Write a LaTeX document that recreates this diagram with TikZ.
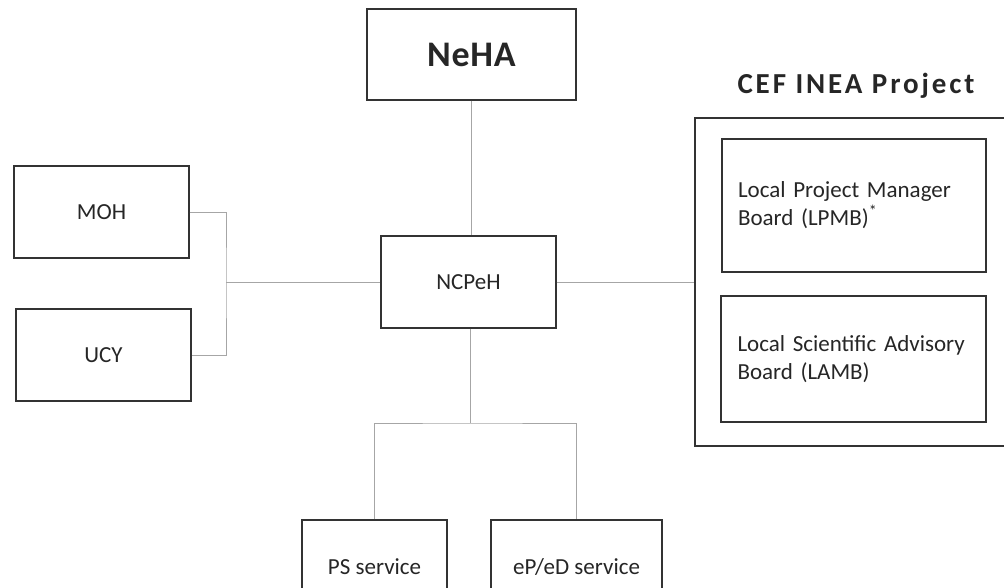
\documentclass[tikz,border=0pt]{standalone}
\usepackage{fontspec}
\setmainfont{Carlito}
\usepackage{tikz}

\tikzset{
	unit/.style={draw=black!80, line width=1.3pt, text=black!85, font=\fontsize{23}{28}\selectfont, minimum width=175pt, minimum height=92pt, inner sep=0pt},
	board/.style={unit, align=left, text width=232pt},
	link/.style={draw=black!35, line width=1pt}
}

\begin{document}
\begin{tikzpicture}[x=1pt, y=-1pt]
	\useasboundingbox (0,0) rectangle (1004,587);
	\clip (0,0) rectangle (1004,587);
	\node[unit, minimum width=209pt, minimum height=91pt, font=\fontsize{36}{40}\selectfont\bfseries\addfontfeature{LetterSpace=2}] (neha) at (471.5,54.5) {NeHA};
	\node[unit] (moh) at (101.5,212) {MOH};
	\node[unit] (ucy) at (103.5,355) {UCY};
	\node[unit] (ncpeh) at (468.5,282) {NCPeH};
	%% CEF INEA group
	\node[unit, minimum width=318pt, minimum height=328pt] (cef) at (854,282) {};
	\node[text=black!85, font=\fontsize{29}{32}\selectfont\bfseries\addfontfeature{LetterSpace=10}] (title) at (856,86) {CEF INEA Project};
	\node[board, minimum width=264pt, minimum height=133pt] (lpmb) at (854,205.5) {Local Project Manager\\Board (LPMB)\textsuperscript{*}};
	\node[board, minimum width=265pt, minimum height=126pt] (lamb) at (853.5,359) {Local Scientific Advisory\\Board (LAMB)};
	%% services
	\node[unit, minimum width=145pt, text height=16pt, text depth=0pt] (ps) at (374.5,566) {PS service};
	\node[unit, minimum width=171pt, text height=16pt, text depth=0pt] (epd) at (576.5,566) {eP/eD service};
	\coordinate (jl) at (226,282);
	\coordinate (jb) at (470,423);
	\draw[link] (neha.south) -- (neha.south |- ncpeh.north);
	\draw[link] (moh.east) -| (jl) |- (ucy.east);
	\draw[link] (jl) -- (ncpeh.west);
	\draw[link] (ncpeh.east) -- (cef.west);
	\draw[link] (ncpeh.south -| jb) -- (jb);
	\draw[link] (ps.north) |- (jb) -| (epd.north);
\end{tikzpicture}
\end{document}
